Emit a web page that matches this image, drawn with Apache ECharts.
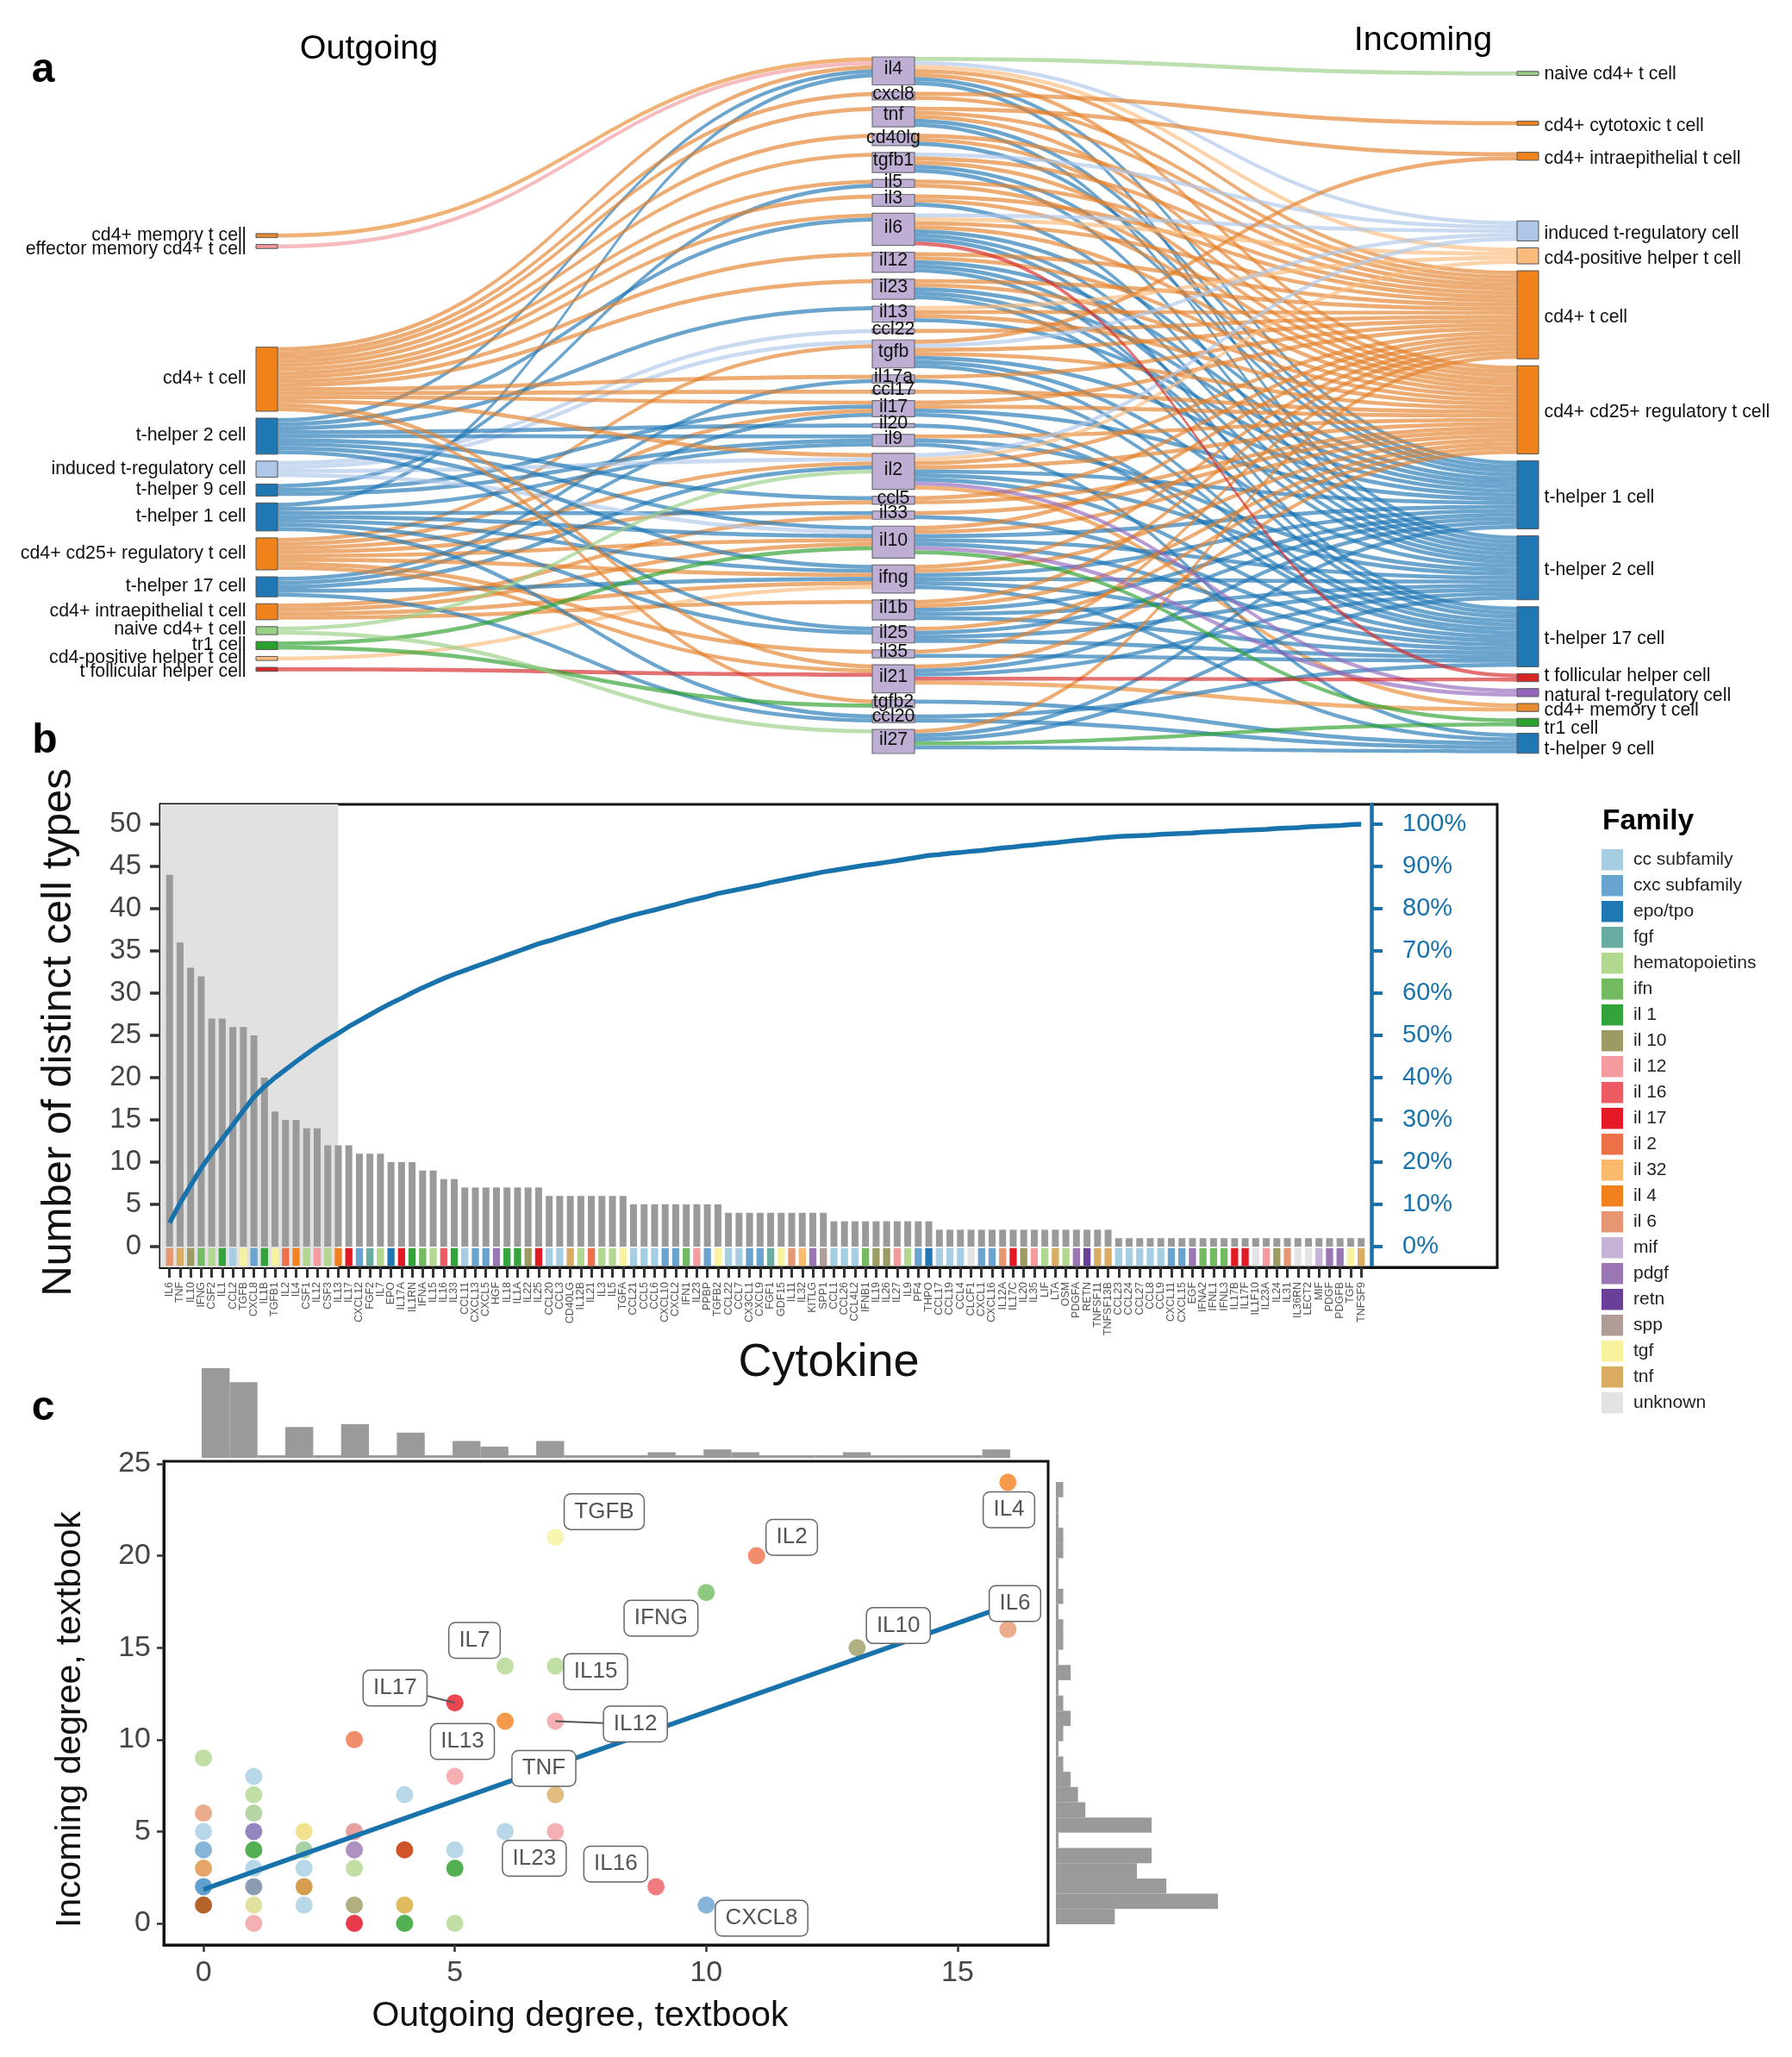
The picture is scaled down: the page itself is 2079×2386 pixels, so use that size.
<!DOCTYPE html>
<html>
<head>
<meta charset="utf-8">
<title>Cytokine network</title>
<script src="https://cdn.jsdelivr.net/npm/echarts@6/dist/echarts.min.js"></script>
<style>
  html, body { margin: 0; background: #fff; }
  #main { width: 2079px; height: 2386px; }
</style>
</head>
<body>
<div id="main"></div>
<script>
// ---- panel a: cell types and cytokines ----
const cellNames = {
  mem: "cd4+ memory t cell", eff: "effector memory cd4+ t cell", cd4: "cd4+ t cell", th2: "t-helper 2 cell",
  itr: "induced t-regulatory cell", th9: "t-helper 9 cell", th1: "t-helper 1 cell", c25: "cd4+ cd25+ regulatory t cell",
  t17: "t-helper 17 cell", iep: "cd4+ intraepithelial t cell", nai: "naive cd4+ t cell", tr1: "tr1 cell",
  pos: "cd4-positive helper t cell", tfh: "t follicular helper cell", cyt: "cd4+ cytotoxic t cell", nat: "natural t-regulatory cell",
};
const cellColors = {
  mem: "#ea8a30", eff: "#f2989c", cd4: "#f0821c", th2: "#1f77b4", itr: "#aec7e8", th9: "#1f77b4", th1: "#1f77b4", c25: "#f0821c",
  t17: "#1f77b4", iep: "#f0821c", nai: "#98cf85", tr1: "#2ca02c", pos: "#fbbb7c", tfh: "#d62728", cyt: "#f0821c", nat: "#9467bd",
};
// a number in a column is blank space in link units
const outgoingColumn = [42.4, "mem", "eff", 21.2, "cd4", "th2", "itr", "th9", "th1", "c25", "t17", "iep", "nai", "tr1", "pos", "tfh"];
const incomingColumn = [1.9, "nai", 8, "cyt", 3.3, "iep", 11.7, "itr", "pos", "cd4", "c25", "th1", "th2", "t17", "tfh", "nat", "mem", "tr1", "th9"];

const cytokineNodes = ["il4", "cxcl8", "tnf", "cd40lg", "tgfb1", "il5", "il3", "il6", "il12", "il23", "il13", "ccl22", "tgfb", "il17a", "ccl17",
  "il17", "il20", "il9", "il2", "ccl5", "il33", "il10", "ifng", "il1b", "il25", "il35", "il21", "tgfb2", "ccl20", "il27"];
const cytokineSizes = [7, 2, 5, 3, 5, 2, 3, 8, 5, 5, 4, 1, 7, 2, 1, 4, 1, 3, 9, 2, 2, 8, 7, 5, 4, 2, 7, 2, 2, 6];

const cytokineSources = [
  ["mem", "eff", "cd4", "th2", "th1"], ["cd4"], ["cd4"], ["cd4"], ["cd4"], ["cd4", "th9"], ["cd4"], ["cd4", "th2"], ["cd4"], ["cd4"],
  ["th2"], ["itr"], ["itr", "c25"], ["cd4", "t17"], ["cd4"], ["cd4", "th9", "c25", "t17"], ["th2"], ["th2", "th9", "th1"],
  ["cd4", "itr", "c25", "t17", "nai"], ["th2", "c25"], ["th1", "iep"], ["itr", "th2", "th1", "c25", "iep", "tr1"],
  ["th2", "th1", "c25", "t17", "iep", "pos"], ["iep"], ["th2", "th1"], ["c25"], ["cd4", "c25", "tfh"], ["cd4", "tr1"], ["th1", "t17"], ["nai"],
];
const cytokineTargets = [
  ["nai", "itr", "pos", "cd4", "c25", "th1", "th2"], ["cyt", "cd4"], ["iep", "cd4", "c25", "th1", "th2"], ["cd4", "c25", "th1"],
  ["itr", "cd4", "c25", "th1", "th2"], ["cd4", "c25"], ["cd4", "c25", "th2"], ["itr", "pos", "cd4", "c25", "th1", "th2", "t17", "tfh"],
  ["cd4", "c25", "th1", "th2", "t17"], ["cd4", "c25", "th1", "th2", "t17"], ["pos", "cd4", "c25", "th1"], ["cd4"],
  ["iep", "itr", "cd4", "c25", "th1", "th2", "t17"], ["cd4", "t17"], ["c25"], ["cd4", "c25", "th1", "t17"], ["t17"], ["c25", "th2", "th9"],
  ["itr", "pos", "cd4", "c25", "th1", "th2", "t17", "nat", "mem"], ["cd4", "c25"], ["c25", "t17"],
  ["cd4", "c25", "th1", "th2", "t17", "nat", "tr1"], ["cd4", "c25", "th1", "th2", "t17", "th9"], ["cd4", "c25", "th1", "th2", "t17"],
  ["c25", "th1", "th2", "t17"], ["cd4", "t17"], ["c25", "th1", "th2", "tfh", "mem"], ["th9"], ["t17", "th9"], ["cd4", "th1", "th2", "tr1", "th9"],
];

// ---- panel b: cytokine ranking ----
const cytokines = ["IL6", "TNF", "IL10", "IFNG", "CSF2", "IL1", "CCL2", "TGFB", "CXCL8", "IL1B", "TGFB1", "IL2", "IL4", "CSF1", "IL12", "CSF3", "IL13", "IL17", "CXCL12",
  "FGF2", "IL7", "EPO", "IL17A", "IL1RN", "IFNA", "IL15", "IL16", "IL33", "CCL11", "CXCL13", "CXCL5", "HGF", "IL18", "IL1A", "IL22", "IL25", "CCL20", "CCL3",
  "CD40LG", "IL12B", "IL21", "IL3", "IL5", "TGFA", "CCL21", "CCL5", "CCL6", "CXCL10", "CXCL2", "IFN1", "IL23", "PPBP", "TGFB2", "CCL22", "CCL7", "CX3CL1", "CXCL9",
  "FGF1", "GDF15", "IL11", "IL32", "KITLG", "SPP1", "CCL1", "CCL26", "CCL4L2", "IFNB1", "IL19", "IL26", "IL27", "IL9", "PF4", "THPO", "CCL17", "CCL19", "CCL4",
  "CLCF1", "CXCL1", "CXCL16", "IL12A", "IL17C", "IL20", "IL35", "LIF", "LTA", "OSM", "PDGFA", "RETN", "TNFSF11", "TNFSF13B", "CCL23", "CCL24", "CCL27", "CCL8",
  "CCL9", "CXCL11", "CXCL15", "EGF", "IFNA2", "IFNL1", "IFNL3", "IL17B", "IL17F", "IL1F10", "IL23A", "IL24", "IL31", "IL36RN", "LECT2", "MIF", "PDGF", "PDGFB", "TGF", "TNFSF9"];
const cellTypeCounts = [44, 36, 33, 32, 27, 27, 26, 26, 25, 20, 16, 15, 15, 14, 14, 12, 12, 12, 11, 11, 11, 10, 10, 10, 9, 9, 8, 8, 7, 7, 7, 7, 7, 7, 7, 7, 6, 6,
  6, 6, 6, 6, 6, 6, 5, 5, 5, 5, 5, 5, 5, 5, 5, 4, 4, 4, 4, 4, 4, 4, 4, 4, 4, 3, 3, 3, 3, 3, 3, 3, 3, 3, 3, 2, 2, 2,
  2, 2, 2, 2, 2, 2, 2, 2, 2, 2, 2, 2, 2, 2, 1, 1, 1, 1, 1, 1, 1, 1, 1, 1, 1, 1, 1, 1, 1, 1, 1, 1, 1, 1, 1, 1, 1, 1];
const cumulativePercent = [5.6, 10.3, 14.5, 18.6, 22.1, 25.5, 28.8, 32.2, 35.4, 37.9, 40, 41.9, 43.8, 45.6, 47.4, 49, 50.5, 52.1, 53.5, 54.9, 56.3, 57.6, 58.8, 60.1,
  61.3, 62.4, 63.5, 64.5, 65.4, 66.3, 67.2, 68.1, 69, 69.9, 70.8, 71.7, 72.4, 73.2, 74, 74.7, 75.5, 76.3, 77.1, 77.8, 78.5, 79.1, 79.7, 80.4, 81, 81.7, 82.3, 82.9, 83.6,
  84.1, 84.6, 85.1, 85.6, 86.2, 86.7, 87.2, 87.7, 88.2, 88.7, 89.1, 89.5, 89.9, 90.3, 90.6, 91, 91.4, 91.8, 92.2, 92.6, 92.8, 93.1, 93.3, 93.6, 93.8, 94.1, 94.4, 94.6,
  94.9, 95.1, 95.4, 95.6, 95.9, 96.2, 96.4, 96.7, 96.9, 97.1, 97.2, 97.3, 97.4, 97.6, 97.7, 97.8, 97.9, 98.1, 98.2, 98.3, 98.5, 98.6, 98.7, 98.8, 99, 99.1, 99.2, 99.4,
  99.5, 99.6, 99.7, 99.9, 100];
const percentTicks = [0, 10, 20, 30, 40, 50, 60, 70, 80, 90, 100];
const countTicks = [0, 5, 10, 15, 20, 25, 30, 35, 40, 45, 50];

const familyColors = {
  "cc subfamily": "#a6cee3", "cxc subfamily": "#69a3cf", "epo/tpo": "#1f78b4", "fgf": "#69aca1", "hematopoietins": "#b2d78f", "ifn": "#73bb60",
  "il 1": "#33a33b", "il 10": "#9b9b62", "il 12": "#f49ba0", "il 16": "#ec5b62", "il 17": "#e31a24", "il 2": "#ee7049", "il 32": "#fbb96b",
  "il 4": "#f2811d", "il 6": "#e69670", "mif": "#c7b2d8", "pdgf": "#9a76b4", "retn": "#6a3f98", "spp": "#b19d97", "tgf": "#f6f29d", "tnf": "#d9ac62", "unknown": "#e3e3e3",
};
const cc = "cc subfamily", cxc = "cxc subfamily", hema = "hematopoietins";
const cytokineFamily = ["il 6", "tnf", "il 10", "ifn", hema, "il 1", cc, "tgf", cxc, "il 1", "tgf", "il 2", "il 4", hema, "il 12", hema, "il 4", "il 17", cxc,
  "fgf", hema, "epo/tpo", "il 17", "il 1", "ifn", hema, "il 16", "il 1", cc, cxc, cxc, "pdgf", "il 1", "il 1", "il 10", "il 17", cc, cc,
  "tnf", hema, "il 2", hema, hema, "tgf", cc, cc, cc, cxc, cxc, "ifn", "il 12", cxc, "tgf", cc, cc, cxc, cxc,
  "fgf", "tgf", "il 6", "il 32", "pdgf", "spp", cc, cc, cc, "ifn", "il 10", "il 10", "il 12", hema, cxc, "epo/tpo", cc, cc, cc,
  "unknown", cxc, cxc, "il 6", "il 17", "il 10", "il 12", hema, "tnf", hema, "pdgf", "retn", "tnf", "tnf", cc, cc, cc, cc,
  cc, cxc, cxc, "pdgf", "ifn", "ifn", "ifn", "il 17", "il 17", "unknown", "il 12", "il 10", "il 6", "unknown", "unknown", "mif", "pdgf", "pdgf", "tgf", "tnf"];

// ---- panel c: degree scatter ----
const pointX = [0, 0, 0, 0, 0, 0, 0, 1, 1, 1, 1, 1, 1, 1, 1, 1, 2, 2, 2, 2, 2, 3, 3, 3, 3, 3, 3, 4, 4, 4, 4, 5, 5, 5, 5, 5, 6, 6, 6, 7, 7, 7, 7, 7, 9, 10, 10, 11, 13, 16, 16];
const pointY = [9, 6, 5, 4, 3, 2, 1, 8, 7, 6, 5, 4, 3, 2, 1, 0, 5, 4, 3, 2, 1, 10, 5, 4, 3, 1, 0, 7, 4, 1, 0, 12, 8, 4, 3, 0, 14, 11, 5, 21, 14, 11, 7, 5, 2, 18, 1, 20, 15, 24, 16];
const pointFamily = [hema, "il 6", cc, cxc, "il 4+tnf", "cxc+epo", "il 1+il 4", cc, hema, "hema+il 10", "pdgf+cxc", "il 1+ifn", cc, "il 10+cxc", "tgf+il 10", "il 12",
  "tgf+tnf", "hema+cc", cc, "tnf+il 4", cc, "il 2", "il 12+il 6", "pdgf", hema, "il 10", "il 17+il 16", cc, "il 2+il 17", "tnf+tgf", "il 1+ifn", "il 17", "il 12", cc, "il 1+ifn", hema,
  hema, "il 4", cc, "tgf", hema, "il 12", "tnf", "il 12", "il 16", "ifn", cxc, "il 2", "il 10", "il 4", "il 6"];
// points where several families overlap, colour as it shows in the plot
const overlapColors = {
  "il 4+tnf": "#e4a566", "cxc+epo": "#5fa0cd", "il 1+il 4": "#b5622b", "hema+il 10": "#b5d6a4", "pdgf+cxc": "#9385c0", "il 1+ifn": "#52b052", "il 10+cxc": "#8b9cb0",
  "tgf+il 10": "#e2e2a0", "tgf+tnf": "#f2e28f", "hema+cc": "#a8d1a8", "tnf+il 4": "#d59e4f", "il 12+il 6": "#e6a0a0", "il 17+il 16": "#e83a4a", "il 2+il 17": "#d05429", "tnf+tgf": "#dfba5f",
};
const fitLine = [[0, 1.85], [16, 17.3]];
const calloutNames = ["TGFB", "IFNG", "IL7", "IL15", "IL17", "IL12", "IL13", "TNF", "IL23", "IL16", "IL2", "IL4", "IL6", "IL10", "CXCL8"];
const calloutX = [7.97, 9.1, 5.39, 7.8, 3.81, 8.59, 5.15, 6.77, 6.58, 8.2, 11.7, 16.02, 16.14, 13.82, 11.1];
const calloutY = [22.4, 16.6, 15.4, 13.7, 12.8, 10.85, 9.9, 8.43, 3.54, 3.23, 21, 22.5, 17.4, 16.2, 0.28];
const leaderLines = [[[4.42, 12.4], [5, 12]], [[7, 11], [7.97, 10.9]]];
const outgoingHist = [32, 27, 0, 11, 0, 12, 0, 9, 0, 6, 4, 0, 6, 0, 0, 0, 2, 0, 3, 2, 0, 0, 0, 2, 0, 0, 0, 0, 3];
const incomingHist = [8, 22, 15, 11, 13, 0, 13, 4, 3, 2, 1, 0, 1, 2, 1, 0, 2, 0, 1, 1, 0, 1, 0, 0, 1, 1, 0, 0, 1];
const degreeXTicks = [0, 5, 10, 15];
const degreeYTicks = [0, 5, 10, 15, 20, 25];

const sansFont = "'Liberation Sans', Arial, sans-serif";
const blue = "#1872ab";
const tickGrey = "#333";
const linkOrange = "#e4812c"; // bands read a little duller than the orange boxes

// label nudges where the labels were pushed apart in the figure
const outLabelNudge = { mem: 0, eff: 3, cd4: -1, th2: -1, itr: 0, th9: 0, th1: -1, c25: 0, t17: -1, iep: 0, nai: -1, tr1: -1, pos: -1, tfh: 3 };
const inLabelNudge = { nai: 1, cyt: 3, iep: 3, itr: 3, pos: 3, cd4: 3, c25: 3, th1: 3, th2: 3, t17: 3, tfh: -2, nat: 4, mem: 3, tr1: 7, th9: 7 };

function sankeyNodes(showSides) {
  const nodes = [];
  const blank = (value, depth, i) => ({ name: "blank " + depth + i, value, depth, itemStyle: { opacity: 0, borderWidth: 0 }, label: { show: false } });
  const side = (column, prefix, depth, position, nudge) => column.forEach((key, i) => {
    if (typeof key === "number") { nodes.push(blank(key, depth, i)); return; }
    nodes.push({
      name: prefix + key,
      depth,
      itemStyle: showSides ? { color: cellColors[key] } : { opacity: 0, borderWidth: 0 },
      label: { show: showSides, position, distance: position === "left" ? 11 : 6, offset: [0, nudge[key] || 0], formatter: cellNames[key] },
    });
  });
  side(outgoingColumn, "out ", 0, "left", outLabelNudge);
  cytokineNodes.forEach((name, i) => nodes.push({
    name,
    value: cytokineSizes[i],
    depth: 1,
    itemStyle: showSides ? { opacity: 0, borderWidth: 0 } : { color: "#bfaed4", borderColor: "#6f6f78", borderWidth: 1.2 },
    label: { show: !showSides, position: "inside", offset: [0, -2] },
  }));
  side(incomingColumn, "in ", 2, "right", inLabelNudge);
  return nodes;
}

function sankeyLinks(visible) {
  const links = [];
  const accents = [];
  const lineStyle = (key) => ({ color: cellColors[key] === "#f0821c" ? linkOrange : cellColors[key], opacity: visible ? 0.66 : 0, curveness: 0.5 });
  // red, green and purple bands sit above the orange and blue mass
  const add = (source, target, key) => {
    const isAccent = ["nai", "tr1", "tfh", "nat"].includes(key);
    (isAccent ? accents : links).push({ source, target, value: 1, lineStyle: lineStyle(key) });
  };
  cytokineNodes.forEach((name, i) => {
    cytokineSources[i].forEach((key) => add("out " + key, name, key));
    cytokineTargets[i].forEach((key) => add(name, "in " + key, key));
  });
  return links.concat(accents);
}

function sankeySeries(main) {
  return {
    type: "sankey",
    left: 297,
    top: 66,
    width: main ? 1488 : 1479,
    height: 808,
    nodeWidth: main ? 25 : 49, // cytokine boxes are wider, they get their own pass on top
    nodeGap: 8,
    layoutIterations: 0,
    z: main ? 2 : 3,
    silent: true,
    emphasis: { disabled: true },
    data: sankeyNodes(main),
    links: sankeyLinks(main),
    itemStyle: { borderColor: "#555", borderWidth: 1 },
    label: { color: "#111", fontSize: 21.3, fontFamily: sansFont },
  };
}

function stripCell(params, api) {
  const x = api.value(0);
  const a = api.coord([x - 0.34, -0.17]);
  const b = api.coord([x + 0.34, -2.28]);
  return { type: "rect", shape: { x: a[0], y: a[1], width: b[0] - a[0], height: b[1] - a[1] }, style: api.style() };
}

const stripSeries = Object.keys(familyColors).map((family) => ({
  type: "custom",
  name: family,
  renderItem: stripCell,
  xAxisIndex: 0,
  yAxisIndex: 0,
  encode: { x: 0, y: 1 },
  itemStyle: { color: familyColors[family] },
  data: cytokineFamily.flatMap((f, i) => (f === family ? [[i, 0]] : [])),
  z: 3,
}));

function panelText(text, x, y, font, rotation) {
  return { type: "text", x, y, rotation: rotation || 0, style: { text, font, fill: "#000", align: "center", verticalAlign: "middle" } };
}

const option = {
  animation: false,
  backgroundColor: "#fff",
  textStyle: { fontFamily: sansFont },
  graphic: [
    panelText("a", 50, 82, "bold 48px " + sansFont),
    panelText("b", 52, 860, "bold 48px " + sansFont),
    panelText("c", 50, 1634, "bold 48px " + sansFont),
    panelText("Outgoing", 428, 57, "39.5px " + sansFont),
    panelText("Incoming", 1651, 47, "39.5px " + sansFont),
    panelText("Family", 1912, 953, "bold 33.5px " + sansFont),
  ],
  legend: {
    data: Object.keys(familyColors),
    orient: "vertical",
    left: 1858,
    top: 985,
    padding: 0,
    itemWidth: 25,
    itemHeight: 24.5,
    itemGap: 5.5,
    icon: "rect",
    selectedMode: false,
    textStyle: { fontSize: 21, color: "#222", padding: [0, 0, 0, 7] },
  },
  grid: [
    { left: 186, top: 933, width: 1551, height: 537, show: true, borderColor: "#111", borderWidth: 3, backgroundColor: "transparent" },
    { left: 190, top: 1695, width: 1026, height: 561, show: true, borderColor: "#111", borderWidth: 3, backgroundColor: "transparent" },
    { left: 234, top: 1587, width: 938, height: 104 },
    { left: 1225, top: 1719, width: 188, height: 513 },
  ],
  xAxis: [
    {
      gridIndex: 0, type: "value", min: -0.875, max: 125.9, splitLine: { show: false },
      name: "Cytokine", nameLocation: "middle", nameGap: 84, nameTextStyle: { fontSize: 54, color: "#111" },
      axisLine: { show: true, onZero: false, lineStyle: { color: "#111", width: 3 } },
      axisTick: { show: true, length: 12, lineStyle: { color: tickGrey, width: 3 }, customValues: cytokines.map((c, i) => i) },
      axisLabel: { rotate: 90, fontSize: 12.4, color: "#555", margin: 17, customValues: cytokines.map((c, i) => i), formatter: (v) => cytokines[v] },
    },
    {
      gridIndex: 1, type: "value", min: -0.79, max: 16.8, splitLine: { show: false },
      name: "Outgoing degree, textbook", nameLocation: "middle", nameGap: 62,
      nameTextStyle: { fontSize: 41, color: "#111", padding: [0, 60, 0, 0] },
      axisLine: { show: true, onZero: false, lineStyle: { color: "#111", width: 3 } },
      axisTick: { show: true, length: 8, lineStyle: { color: tickGrey, width: 2.5 }, customValues: degreeXTicks },
      axisLabel: { fontSize: 34, color: "#444", margin: 16, customValues: degreeXTicks },
    },
    { gridIndex: 2, type: "category", show: false, data: outgoingHist.map((c, i) => i) },
    { gridIndex: 3, type: "value", show: false, min: 0, max: 22, splitLine: { show: false } },
  ],
  yAxis: [
    {
      gridIndex: 0, type: "value", min: -2.45, max: 52.35, splitLine: { show: false },
      name: "Number of distinct cell types", nameLocation: "middle", nameGap: 93,
      nameTextStyle: { fontSize: 49, color: "#111", padding: [0, 0, 0, 8] },
      axisLine: { show: true, onZero: false, lineStyle: { color: "#111", width: 3 } },
      axisTick: { show: true, length: 12, lineStyle: { color: tickGrey, width: 3.5 }, customValues: countTicks },
      axisLabel: { fontSize: 33, color: "#444", margin: 22, customValues: countTicks },
    },
    {
      gridIndex: 0, type: "value", position: "right", offset: -146, min: -4.9, max: 104.7, splitLine: { show: false },
      axisLine: { show: true, onZero: false, lineStyle: { color: blue, width: 4.5 } },
      axisTick: { show: true, length: 13, lineStyle: { color: blue, width: 4 }, customValues: percentTicks },
      axisLabel: { fontSize: 29, color: blue, margin: 36, customValues: percentTicks, formatter: (v) => v + "%" },
    },
    {
      gridIndex: 1, type: "value", min: -1.17, max: 25.14, splitLine: { show: false },
      name: "Incoming degree, textbook", nameLocation: "middle", nameGap: 88,
      nameTextStyle: { fontSize: 41, color: "#111", padding: [0, 38, 0, 0] },
      axisLine: { show: true, onZero: false, lineStyle: { color: "#111", width: 3 } },
      axisTick: { show: true, length: 8, lineStyle: { color: tickGrey, width: 2.5 }, customValues: degreeYTicks },
      axisLabel: { fontSize: 34, color: "#444", margin: 15, customValues: degreeYTicks },
    },
    { gridIndex: 2, type: "value", show: false, min: 0, max: 32, splitLine: { show: false } },
    { gridIndex: 3, type: "category", show: false, data: incomingHist.map((c, i) => i) },
  ],
  series: [
    sankeySeries(true),
    sankeySeries(false),
    {
      type: "bar",
      xAxisIndex: 0,
      yAxisIndex: 0,
      barWidth: 8,
      z: 2,
      itemStyle: { color: "#9a9a9a" },
      data: cellTypeCounts.map((v, i) => [i, v]),
      markArea: { silent: true, z: 1, itemStyle: { color: "#e1e1e1" }, data: [[{ xAxis: -0.875 }, { xAxis: 16 }]] },
    },
    ...stripSeries,
    {
      type: "line",
      xAxisIndex: 0,
      yAxisIndex: 1,
      z: 5,
      symbol: "none",
      lineStyle: { color: blue, width: 5.5 },
      data: cumulativePercent.map((v, i) => [i, v]),
    },
    {
      type: "scatter",
      xAxisIndex: 1,
      yAxisIndex: 2,
      symbolSize: 20,
      z: 3,
      data: pointX.map((x, i) => {
        const family = pointFamily[i];
        const shared = overlapColors[family];
        return { value: [x, pointY[i]], itemStyle: { color: shared || familyColors[family], opacity: shared ? 1 : 0.8 } };
      }),
    },
    {
      type: "line",
      xAxisIndex: 1,
      yAxisIndex: 2,
      z: 4,
      symbol: "none",
      lineStyle: { color: blue, width: 5.5 },
      data: fitLine,
    },
    ...leaderLines.map((line) => ({
      type: "line",
      xAxisIndex: 1,
      yAxisIndex: 2,
      z: 4,
      symbol: "none",
      lineStyle: { color: "#555", width: 2 },
      data: line,
    })),
    {
      type: "scatter",
      xAxisIndex: 1,
      yAxisIndex: 2,
      symbolSize: 1,
      z: 6,
      itemStyle: { color: "transparent", opacity: 1 },
      label: {
        show: true,
        position: "inside",
        fontSize: 26,
        color: "#555",
        backgroundColor: "#fff",
        borderColor: "#666",
        borderWidth: 1.5,
        borderRadius: 7,
        padding: [8, 11, 6, 11],
        formatter: (p) => p.name,
      },
      data: calloutNames.map((name, i) => ({ name, value: [calloutX[i], calloutY[i]] })),
    },
    {
      type: "bar",
      xAxisIndex: 2,
      yAxisIndex: 3,
      barCategoryGap: 0,
      barMinHeight: 3,
      itemStyle: { color: "#9a9a9a" },
      data: outgoingHist,
    },
    {
      type: "bar",
      xAxisIndex: 3,
      yAxisIndex: 4,
      barCategoryGap: 0,
      barMinHeight: 3,
      itemStyle: { color: "#9a9a9a" },
      data: incomingHist,
    },
  ],
};

const chart = echarts.init(document.getElementById("main"));
chart.setOption(option);
</script>
</body>
</html>
